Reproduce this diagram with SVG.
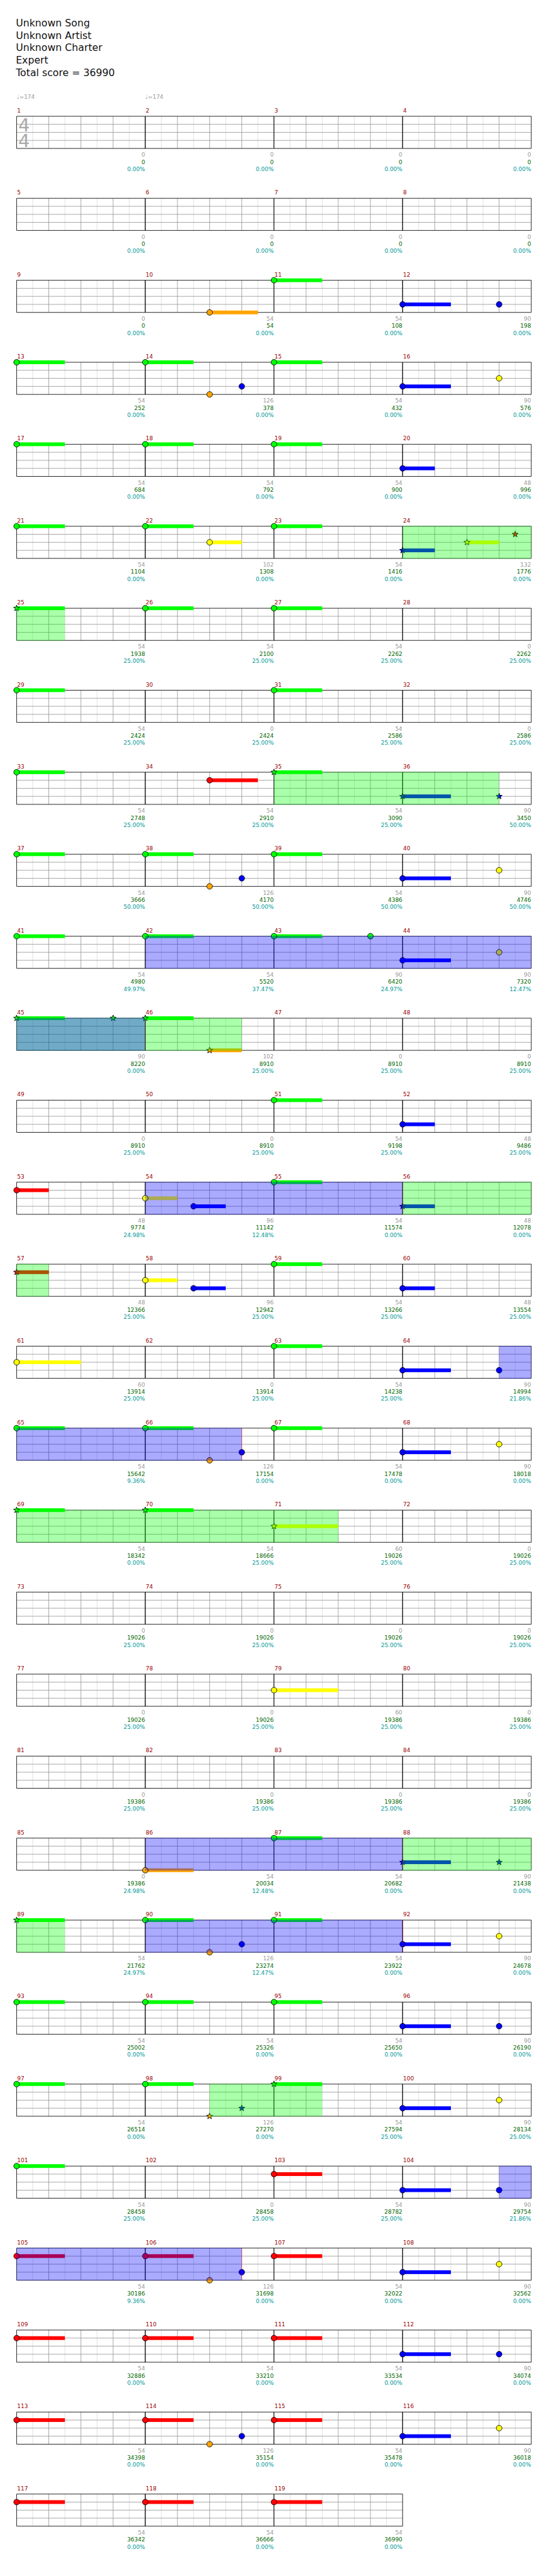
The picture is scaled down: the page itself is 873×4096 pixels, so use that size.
<svg xmlns="http://www.w3.org/2000/svg" width="873" height="4096" viewBox="0 0 873 4096">
<style>
text{font-family:"DejaVu Sans","Liberation Sans",sans-serif}
.ti{font-size:18.5px;fill:#111}
.n{font-size:10.5px;fill:#990000}
.l{font-size:10.5px;fill:#999;text-anchor:end}
.b{fill:#006600}.c{fill:#009999}
.tp{font-size:10.5px;fill:#999}
.ts{font-size:34px;fill:#aaa}
.G{fill:#0f0}.R{fill:#f00}.Y{fill:#ff0}.B{fill:#00f}.O{fill:#ffa500}
circle{stroke:#000;stroke-width:1}
.og{fill:#0f0;fill-opacity:.333}.ob{fill:#00f;fill-opacity:.333}
.el{stroke:#f00;stroke-opacity:.4;stroke-width:1}
</style>
<defs>
<g id="gr" fill="none">
<path d="M30 0v60M90 0v60M150 0v60M210 0v60" stroke="#dcdcdc"/>
<path d="M0 15h240M0 30h240M0 45h240M60 0v60M120 0v60M180 0v60" stroke="#999"/>
<path d="M0 0h240M0 60h240M0 0v60M240 0v60" stroke="#000"/>
</g>
<path id="st" stroke="#000" stroke-width="1" d="M0-6L1.47-2.02L5.71-1.85L2.38 0.77L3.53 4.85L0 2.5L-3.53 4.85L-2.38 0.77L-5.71-1.85L-1.47-2.02Z"/>
</defs>
<rect width="873" height="4096" fill="#fff"/>
<g transform="scale(0.8525,0.8521)">
<g id="header">
<text class="ti" x="29.5" y="49.5">Unknown Song</text>
<text class="ti" x="29.5" y="72.5">Unknown Artist</text>
<text class="ti" x="29.5" y="95.5">Unknown Charter</text>
<text class="ti" x="29.5" y="118.5">Expert</text>
<text class="ti" x="29.5" y="141.5">Total score = 36990</text>
</g>
<g id="measures">
<g id="m1" transform="translate(31,217)"><use href="#gr"/><text class="tp" y="-33">♩=174</text><text class="ts" x="3" y="28">4<tspan x="3" dy="30">4</tspan></text><text class="n" x="1" y="-7">1</text><text class="l" x="239.5" y="75.5">0<tspan class="b" x="239.5" dy="13.3">0</tspan><tspan class="c" x="239.5" dy="13.3">0.00%</tspan></text></g>
<g id="m2" transform="translate(271,217)"><use href="#gr"/><text class="tp" y="-33">♩=174</text><text class="n" x="1" y="-7">2</text><text class="l" x="239.5" y="75.5">0<tspan class="b" x="239.5" dy="13.3">0</tspan><tspan class="c" x="239.5" dy="13.3">0.00%</tspan></text></g>
<g id="m3" transform="translate(511,217)"><use href="#gr"/><text class="n" x="1" y="-7">3</text><text class="l" x="239.5" y="75.5">0<tspan class="b" x="239.5" dy="13.3">0</tspan><tspan class="c" x="239.5" dy="13.3">0.00%</tspan></text></g>
<g id="m4" transform="translate(751,217)"><use href="#gr"/><text class="n" x="1" y="-7">4</text><text class="l" x="239.5" y="75.5">0<tspan class="b" x="239.5" dy="13.3">0</tspan><tspan class="c" x="239.5" dy="13.3">0.00%</tspan></text></g>

<g id="m5" transform="translate(31,370)"><use href="#gr"/><text class="n" x="1" y="-7">5</text><text class="l" x="239.5" y="75.5">0<tspan class="b" x="239.5" dy="13.3">0</tspan><tspan class="c" x="239.5" dy="13.3">0.00%</tspan></text></g>
<g id="m6" transform="translate(271,370)"><use href="#gr"/><text class="n" x="1" y="-7">6</text><text class="l" x="239.5" y="75.5">0<tspan class="b" x="239.5" dy="13.3">0</tspan><tspan class="c" x="239.5" dy="13.3">0.00%</tspan></text></g>
<g id="m7" transform="translate(511,370)"><use href="#gr"/><text class="n" x="1" y="-7">7</text><text class="l" x="239.5" y="75.5">0<tspan class="b" x="239.5" dy="13.3">0</tspan><tspan class="c" x="239.5" dy="13.3">0.00%</tspan></text></g>
<g id="m8" transform="translate(751,370)"><use href="#gr"/><text class="n" x="1" y="-7">8</text><text class="l" x="239.5" y="75.5">0<tspan class="b" x="239.5" dy="13.3">0</tspan><tspan class="c" x="239.5" dy="13.3">0.00%</tspan></text></g>

<g id="m9" transform="translate(31,523)"><use href="#gr"/><text class="n" x="1" y="-7">9</text><text class="l" x="239.5" y="75.5">0<tspan class="b" x="239.5" dy="13.3">0</tspan><tspan class="c" x="239.5" dy="13.3">0.00%</tspan></text></g>
<g id="m10" transform="translate(271,523)"><use href="#gr"/><text class="n" x="1" y="-7">10</text><text class="l" x="239.5" y="75.5">54<tspan class="b" x="239.5" dy="13.3">54</tspan><tspan class="c" x="239.5" dy="13.3">0.00%</tspan></text><rect class="O" x="120" y="56.5" width="90" height="7"/><circle class="O" cx="120" cy="60" r="5.3"/></g>
<g id="m11" transform="translate(511,523)"><use href="#gr"/><text class="n" x="1" y="-7">11</text><text class="l" x="239.5" y="75.5">54<tspan class="b" x="239.5" dy="13.3">108</tspan><tspan class="c" x="239.5" dy="13.3">0.00%</tspan></text><rect class="G" y="-3.5" width="90" height="7"/><circle class="G" r="5.3"/></g>
<g id="m12" transform="translate(751,523)"><use href="#gr"/><text class="n" x="1" y="-7">12</text><text class="l" x="239.5" y="75.5">90<tspan class="b" x="239.5" dy="13.3">198</tspan><tspan class="c" x="239.5" dy="13.3">0.00%</tspan></text><rect class="B" y="41.5" width="90" height="7"/><circle class="B" cy="45" r="5.3"/><circle class="B" cx="180" cy="45" r="5.3"/></g>

<g id="m13" transform="translate(31,676)"><use href="#gr"/><text class="n" x="1" y="-7">13</text><text class="l" x="239.5" y="75.5">54<tspan class="b" x="239.5" dy="13.3">252</tspan><tspan class="c" x="239.5" dy="13.3">0.00%</tspan></text><rect class="G" y="-3.5" width="90" height="7"/><circle class="G" r="5.3"/></g>
<g id="m14" transform="translate(271,676)"><use href="#gr"/><text class="n" x="1" y="-7">14</text><text class="l" x="239.5" y="75.5">126<tspan class="b" x="239.5" dy="13.3">378</tspan><tspan class="c" x="239.5" dy="13.3">0.00%</tspan></text><rect class="G" y="-3.5" width="90" height="7"/><circle class="G" r="5.3"/><circle class="O" cx="120" cy="60" r="5.3"/><circle class="B" cx="180" cy="45" r="5.3"/></g>
<g id="m15" transform="translate(511,676)"><use href="#gr"/><text class="n" x="1" y="-7">15</text><text class="l" x="239.5" y="75.5">54<tspan class="b" x="239.5" dy="13.3">432</tspan><tspan class="c" x="239.5" dy="13.3">0.00%</tspan></text><rect class="G" y="-3.5" width="90" height="7"/><circle class="G" r="5.3"/></g>
<g id="m16" transform="translate(751,676)"><use href="#gr"/><text class="n" x="1" y="-7">16</text><text class="l" x="239.5" y="75.5">90<tspan class="b" x="239.5" dy="13.3">576</tspan><tspan class="c" x="239.5" dy="13.3">0.00%</tspan></text><rect class="B" y="41.5" width="90" height="7"/><circle class="B" cy="45" r="5.3"/><circle class="Y" cx="180" cy="30" r="5.3"/></g>

<g id="m17" transform="translate(31,829)"><use href="#gr"/><text class="n" x="1" y="-7">17</text><text class="l" x="239.5" y="75.5">54<tspan class="b" x="239.5" dy="13.3">684</tspan><tspan class="c" x="239.5" dy="13.3">0.00%</tspan></text><rect class="G" y="-3.5" width="90" height="7"/><circle class="G" r="5.3"/></g>
<g id="m18" transform="translate(271,829)"><use href="#gr"/><text class="n" x="1" y="-7">18</text><text class="l" x="239.5" y="75.5">54<tspan class="b" x="239.5" dy="13.3">792</tspan><tspan class="c" x="239.5" dy="13.3">0.00%</tspan></text><rect class="G" y="-3.5" width="90" height="7"/><circle class="G" r="5.3"/></g>
<g id="m19" transform="translate(511,829)"><use href="#gr"/><text class="n" x="1" y="-7">19</text><text class="l" x="239.5" y="75.5">54<tspan class="b" x="239.5" dy="13.3">900</tspan><tspan class="c" x="239.5" dy="13.3">0.00%</tspan></text><rect class="G" y="-3.5" width="90" height="7"/><circle class="G" r="5.3"/></g>
<g id="m20" transform="translate(751,829)"><use href="#gr"/><text class="n" x="1" y="-7">20</text><text class="l" x="239.5" y="75.5">48<tspan class="b" x="239.5" dy="13.3">996</tspan><tspan class="c" x="239.5" dy="13.3">0.00%</tspan></text><rect class="B" y="41.5" width="60" height="7"/><circle class="B" cy="45" r="5.3"/></g>

<g id="m21" transform="translate(31,982)"><use href="#gr"/><text class="n" x="1" y="-7">21</text><text class="l" x="239.5" y="75.5">54<tspan class="b" x="239.5" dy="13.3">1104</tspan><tspan class="c" x="239.5" dy="13.3">0.00%</tspan></text><rect class="G" y="-3.5" width="90" height="7"/><circle class="G" r="5.3"/></g>
<g id="m22" transform="translate(271,982)"><use href="#gr"/><text class="n" x="1" y="-7">22</text><text class="l" x="239.5" y="75.5">102<tspan class="b" x="239.5" dy="13.3">1308</tspan><tspan class="c" x="239.5" dy="13.3">0.00%</tspan></text><rect class="G" y="-3.5" width="90" height="7"/><circle class="G" r="5.3"/><rect class="Y" x="120" y="26.5" width="60" height="7"/><circle class="Y" cx="120" cy="30" r="5.3"/></g>
<g id="m23" transform="translate(511,982)"><use href="#gr"/><text class="n" x="1" y="-7">23</text><text class="l" x="239.5" y="75.5">54<tspan class="b" x="239.5" dy="13.3">1416</tspan><tspan class="c" x="239.5" dy="13.3">0.00%</tspan></text><rect class="G" y="-3.5" width="90" height="7"/><circle class="G" r="5.3"/></g>
<g id="m24" transform="translate(751,982)"><use href="#gr"/><text class="n" x="1" y="-7">24</text><text class="l" x="239.5" y="75.5">132<tspan class="b" x="239.5" dy="13.3">1776</tspan><tspan class="c" x="239.5" dy="13.3">0.00%</tspan></text><rect class="B" y="41.5" width="60" height="7"/><use href="#st" class="B" y="45"/><rect class="Y" x="120" y="26.5" width="60" height="7"/><use href="#st" class="Y" x="120" y="30"/><use href="#st" class="R" x="210" y="15"/></g>

<g id="m25" transform="translate(31,1135)"><use href="#gr"/><text class="n" x="1" y="-7">25</text><text class="l" x="239.5" y="75.5">54<tspan class="b" x="239.5" dy="13.3">1938</tspan><tspan class="c" x="239.5" dy="13.3">25.00%</tspan></text><rect class="G" y="-3.5" width="90" height="7"/><use href="#st" class="G"/></g>
<g id="m26" transform="translate(271,1135)"><use href="#gr"/><text class="n" x="1" y="-7">26</text><text class="l" x="239.5" y="75.5">54<tspan class="b" x="239.5" dy="13.3">2100</tspan><tspan class="c" x="239.5" dy="13.3">25.00%</tspan></text><rect class="G" y="-3.5" width="90" height="7"/><circle class="G" r="5.3"/></g>
<g id="m27" transform="translate(511,1135)"><use href="#gr"/><text class="n" x="1" y="-7">27</text><text class="l" x="239.5" y="75.5">54<tspan class="b" x="239.5" dy="13.3">2262</tspan><tspan class="c" x="239.5" dy="13.3">25.00%</tspan></text><rect class="G" y="-3.5" width="90" height="7"/><circle class="G" r="5.3"/></g>
<g id="m28" transform="translate(751,1135)"><use href="#gr"/><text class="n" x="1" y="-7">28</text><text class="l" x="239.5" y="75.5">0<tspan class="b" x="239.5" dy="13.3">2262</tspan><tspan class="c" x="239.5" dy="13.3">25.00%</tspan></text></g>

<g id="m29" transform="translate(31,1288)"><use href="#gr"/><text class="n" x="1" y="-7">29</text><text class="l" x="239.5" y="75.5">54<tspan class="b" x="239.5" dy="13.3">2424</tspan><tspan class="c" x="239.5" dy="13.3">25.00%</tspan></text><rect class="G" y="-3.5" width="90" height="7"/><circle class="G" r="5.3"/></g>
<g id="m30" transform="translate(271,1288)"><use href="#gr"/><text class="n" x="1" y="-7">30</text><text class="l" x="239.5" y="75.5">0<tspan class="b" x="239.5" dy="13.3">2424</tspan><tspan class="c" x="239.5" dy="13.3">25.00%</tspan></text></g>
<g id="m31" transform="translate(511,1288)"><use href="#gr"/><text class="n" x="1" y="-7">31</text><text class="l" x="239.5" y="75.5">54<tspan class="b" x="239.5" dy="13.3">2586</tspan><tspan class="c" x="239.5" dy="13.3">25.00%</tspan></text><rect class="G" y="-3.5" width="90" height="7"/><circle class="G" r="5.3"/></g>
<g id="m32" transform="translate(751,1288)"><use href="#gr"/><text class="n" x="1" y="-7">32</text><text class="l" x="239.5" y="75.5">0<tspan class="b" x="239.5" dy="13.3">2586</tspan><tspan class="c" x="239.5" dy="13.3">25.00%</tspan></text></g>

<g id="m33" transform="translate(31,1441)"><use href="#gr"/><text class="n" x="1" y="-7">33</text><text class="l" x="239.5" y="75.5">54<tspan class="b" x="239.5" dy="13.3">2748</tspan><tspan class="c" x="239.5" dy="13.3">25.00%</tspan></text><rect class="G" y="-3.5" width="90" height="7"/><circle class="G" r="5.3"/></g>
<g id="m34" transform="translate(271,1441)"><use href="#gr"/><text class="n" x="1" y="-7">34</text><text class="l" x="239.5" y="75.5">54<tspan class="b" x="239.5" dy="13.3">2910</tspan><tspan class="c" x="239.5" dy="13.3">25.00%</tspan></text><rect class="R" x="120" y="11.5" width="90" height="7"/><circle class="R" cx="120" cy="15" r="5.3"/></g>
<g id="m35" transform="translate(511,1441)"><use href="#gr"/><text class="n" x="1" y="-7">35</text><text class="l" x="239.5" y="75.5">54<tspan class="b" x="239.5" dy="13.3">3090</tspan><tspan class="c" x="239.5" dy="13.3">25.00%</tspan></text><rect class="G" y="-3.5" width="90" height="7"/><use href="#st" class="G"/></g>
<g id="m36" transform="translate(751,1441)"><use href="#gr"/><text class="n" x="1" y="-7">36</text><text class="l" x="239.5" y="75.5">90<tspan class="b" x="239.5" dy="13.3">3450</tspan><tspan class="c" x="239.5" dy="13.3">50.00%</tspan></text><rect class="B" y="41.5" width="90" height="7"/><use href="#st" class="B" y="45"/><use href="#st" class="B" x="180" y="45"/></g>

<g id="m37" transform="translate(31,1594)"><use href="#gr"/><text class="n" x="1" y="-7">37</text><text class="l" x="239.5" y="75.5">54<tspan class="b" x="239.5" dy="13.3">3666</tspan><tspan class="c" x="239.5" dy="13.3">50.00%</tspan></text><rect class="G" y="-3.5" width="90" height="7"/><circle class="G" r="5.3"/></g>
<g id="m38" transform="translate(271,1594)"><use href="#gr"/><text class="n" x="1" y="-7">38</text><text class="l" x="239.5" y="75.5">126<tspan class="b" x="239.5" dy="13.3">4170</tspan><tspan class="c" x="239.5" dy="13.3">50.00%</tspan></text><rect class="G" y="-3.5" width="90" height="7"/><circle class="G" r="5.3"/><circle class="O" cx="120" cy="60" r="5.3"/><circle class="B" cx="180" cy="45" r="5.3"/></g>
<g id="m39" transform="translate(511,1594)"><use href="#gr"/><text class="n" x="1" y="-7">39</text><text class="l" x="239.5" y="75.5">54<tspan class="b" x="239.5" dy="13.3">4386</tspan><tspan class="c" x="239.5" dy="13.3">50.00%</tspan></text><rect class="G" y="-3.5" width="90" height="7"/><circle class="G" r="5.3"/></g>
<g id="m40" transform="translate(751,1594)"><use href="#gr"/><text class="n" x="1" y="-7">40</text><text class="l" x="239.5" y="75.5">90<tspan class="b" x="239.5" dy="13.3">4746</tspan><tspan class="c" x="239.5" dy="13.3">50.00%</tspan></text><rect class="B" y="41.5" width="90" height="7"/><circle class="B" cy="45" r="5.3"/><circle class="Y" cx="180" cy="30" r="5.3"/></g>

<g id="m41" transform="translate(31,1747)"><use href="#gr"/><text class="n" x="1" y="-7">41</text><text class="l" x="239.5" y="75.5">54<tspan class="b" x="239.5" dy="13.3">4980</tspan><tspan class="c" x="239.5" dy="13.3">49.97%</tspan></text><rect class="G" y="-3.5" width="90" height="7"/><circle class="G" r="5.3"/></g>
<g id="m42" transform="translate(271,1747)"><use href="#gr"/><text class="n" x="1" y="-7">42</text><text class="l" x="239.5" y="75.5">54<tspan class="b" x="239.5" dy="13.3">5520</tspan><tspan class="c" x="239.5" dy="13.3">37.47%</tspan></text><rect class="G" y="-3.5" width="90" height="7"/><circle class="G" r="5.3"/></g>
<g id="m43" transform="translate(511,1747)"><use href="#gr"/><text class="n" x="1" y="-7">43</text><text class="l" x="239.5" y="75.5">90<tspan class="b" x="239.5" dy="13.3">6420</tspan><tspan class="c" x="239.5" dy="13.3">24.97%</tspan></text><rect class="G" y="-3.5" width="90" height="7"/><circle class="G" r="5.3"/><circle class="G" cx="180" r="5.3"/></g>
<g id="m44" transform="translate(751,1747)"><use href="#gr"/><text class="n" x="1" y="-7">44</text><text class="l" x="239.5" y="75.5">90<tspan class="b" x="239.5" dy="13.3">7320</tspan><tspan class="c" x="239.5" dy="13.3">12.47%</tspan></text><rect class="B" y="41.5" width="90" height="7"/><circle class="B" cy="45" r="5.3"/><circle class="Y" cx="180" cy="30" r="5.3"/></g>

<g id="m45" transform="translate(31,1900)"><use href="#gr"/><text class="n" x="1" y="-7">45</text><text class="l" x="239.5" y="75.5">90<tspan class="b" x="239.5" dy="13.3">8220</tspan><tspan class="c" x="239.5" dy="13.3">0.00%</tspan></text><rect class="G" y="-3.5" width="90" height="7"/><use href="#st" class="G"/><use href="#st" class="G" x="180"/></g>
<g id="m46" transform="translate(271,1900)"><use href="#gr"/><text class="n" x="1" y="-7">46</text><text class="l" x="239.5" y="75.5">102<tspan class="b" x="239.5" dy="13.3">8910</tspan><tspan class="c" x="239.5" dy="13.3">25.00%</tspan></text><rect class="G" y="-3.5" width="90" height="7"/><use href="#st" class="G"/><rect class="O" x="120" y="56.5" width="60" height="7"/><use href="#st" class="O" x="120" y="60"/></g>
<g id="m47" transform="translate(511,1900)"><use href="#gr"/><text class="n" x="1" y="-7">47</text><text class="l" x="239.5" y="75.5">0<tspan class="b" x="239.5" dy="13.3">8910</tspan><tspan class="c" x="239.5" dy="13.3">25.00%</tspan></text></g>
<g id="m48" transform="translate(751,1900)"><use href="#gr"/><text class="n" x="1" y="-7">48</text><text class="l" x="239.5" y="75.5">0<tspan class="b" x="239.5" dy="13.3">8910</tspan><tspan class="c" x="239.5" dy="13.3">25.00%</tspan></text></g>

<g id="m49" transform="translate(31,2053)"><use href="#gr"/><text class="n" x="1" y="-7">49</text><text class="l" x="239.5" y="75.5">0<tspan class="b" x="239.5" dy="13.3">8910</tspan><tspan class="c" x="239.5" dy="13.3">25.00%</tspan></text></g>
<g id="m50" transform="translate(271,2053)"><use href="#gr"/><text class="n" x="1" y="-7">50</text><text class="l" x="239.5" y="75.5">0<tspan class="b" x="239.5" dy="13.3">8910</tspan><tspan class="c" x="239.5" dy="13.3">25.00%</tspan></text></g>
<g id="m51" transform="translate(511,2053)"><use href="#gr"/><text class="n" x="1" y="-7">51</text><text class="l" x="239.5" y="75.5">54<tspan class="b" x="239.5" dy="13.3">9198</tspan><tspan class="c" x="239.5" dy="13.3">25.00%</tspan></text><rect class="G" y="-3.5" width="90" height="7"/><circle class="G" r="5.3"/></g>
<g id="m52" transform="translate(751,2053)"><use href="#gr"/><text class="n" x="1" y="-7">52</text><text class="l" x="239.5" y="75.5">48<tspan class="b" x="239.5" dy="13.3">9486</tspan><tspan class="c" x="239.5" dy="13.3">25.00%</tspan></text><rect class="B" y="41.5" width="60" height="7"/><circle class="B" cy="45" r="5.3"/></g>

<g id="m53" transform="translate(31,2206)"><use href="#gr"/><text class="n" x="1" y="-7">53</text><text class="l" x="239.5" y="75.5">48<tspan class="b" x="239.5" dy="13.3">9774</tspan><tspan class="c" x="239.5" dy="13.3">24.98%</tspan></text><rect class="R" y="11.5" width="60" height="7"/><circle class="R" cy="15" r="5.3"/></g>
<g id="m54" transform="translate(271,2206)"><use href="#gr"/><text class="n" x="1" y="-7">54</text><text class="l" x="239.5" y="75.5">96<tspan class="b" x="239.5" dy="13.3">11142</tspan><tspan class="c" x="239.5" dy="13.3">12.48%</tspan></text><rect class="Y" y="26.5" width="60" height="7"/><circle class="Y" cy="30" r="5.3"/><rect class="B" x="90" y="41.5" width="60" height="7"/><circle class="B" cx="90" cy="45" r="5.3"/></g>
<g id="m55" transform="translate(511,2206)"><use href="#gr"/><text class="n" x="1" y="-7">55</text><text class="l" x="239.5" y="75.5">54<tspan class="b" x="239.5" dy="13.3">11574</tspan><tspan class="c" x="239.5" dy="13.3">0.00%</tspan></text><rect class="G" y="-3.5" width="90" height="7"/><circle class="G" r="5.3"/></g>
<g id="m56" transform="translate(751,2206)"><use href="#gr"/><text class="n" x="1" y="-7">56</text><text class="l" x="239.5" y="75.5">48<tspan class="b" x="239.5" dy="13.3">12078</tspan><tspan class="c" x="239.5" dy="13.3">0.00%</tspan></text><rect class="B" y="41.5" width="60" height="7"/><use href="#st" class="B" y="45"/></g>

<g id="m57" transform="translate(31,2359)"><use href="#gr"/><text class="n" x="1" y="-7">57</text><text class="l" x="239.5" y="75.5">48<tspan class="b" x="239.5" dy="13.3">12366</tspan><tspan class="c" x="239.5" dy="13.3">25.00%</tspan></text><rect class="R" y="11.5" width="60" height="7"/><use href="#st" class="R" y="15"/></g>
<g id="m58" transform="translate(271,2359)"><use href="#gr"/><text class="n" x="1" y="-7">58</text><text class="l" x="239.5" y="75.5">96<tspan class="b" x="239.5" dy="13.3">12942</tspan><tspan class="c" x="239.5" dy="13.3">25.00%</tspan></text><rect class="Y" y="26.5" width="60" height="7"/><circle class="Y" cy="30" r="5.3"/><rect class="B" x="90" y="41.5" width="60" height="7"/><circle class="B" cx="90" cy="45" r="5.3"/></g>
<g id="m59" transform="translate(511,2359)"><use href="#gr"/><text class="n" x="1" y="-7">59</text><text class="l" x="239.5" y="75.5">54<tspan class="b" x="239.5" dy="13.3">13266</tspan><tspan class="c" x="239.5" dy="13.3">25.00%</tspan></text><rect class="G" y="-3.5" width="90" height="7"/><circle class="G" r="5.3"/></g>
<g id="m60" transform="translate(751,2359)"><use href="#gr"/><text class="n" x="1" y="-7">60</text><text class="l" x="239.5" y="75.5">48<tspan class="b" x="239.5" dy="13.3">13554</tspan><tspan class="c" x="239.5" dy="13.3">25.00%</tspan></text><rect class="B" y="41.5" width="60" height="7"/><circle class="B" cy="45" r="5.3"/></g>

<g id="m61" transform="translate(31,2512)"><use href="#gr"/><text class="n" x="1" y="-7">61</text><text class="l" x="239.5" y="75.5">60<tspan class="b" x="239.5" dy="13.3">13914</tspan><tspan class="c" x="239.5" dy="13.3">25.00%</tspan></text><rect class="Y" y="26.5" width="120" height="7"/><circle class="Y" cy="30" r="5.3"/></g>
<g id="m62" transform="translate(271,2512)"><use href="#gr"/><text class="n" x="1" y="-7">62</text><text class="l" x="239.5" y="75.5">0<tspan class="b" x="239.5" dy="13.3">13914</tspan><tspan class="c" x="239.5" dy="13.3">25.00%</tspan></text></g>
<g id="m63" transform="translate(511,2512)"><use href="#gr"/><text class="n" x="1" y="-7">63</text><text class="l" x="239.5" y="75.5">54<tspan class="b" x="239.5" dy="13.3">14238</tspan><tspan class="c" x="239.5" dy="13.3">25.00%</tspan></text><rect class="G" y="-3.5" width="90" height="7"/><circle class="G" r="5.3"/></g>
<g id="m64" transform="translate(751,2512)"><use href="#gr"/><text class="n" x="1" y="-7">64</text><text class="l" x="239.5" y="75.5">90<tspan class="b" x="239.5" dy="13.3">14994</tspan><tspan class="c" x="239.5" dy="13.3">21.86%</tspan></text><rect class="B" y="41.5" width="90" height="7"/><circle class="B" cy="45" r="5.3"/><circle class="B" cx="180" cy="45" r="5.3"/></g>

<g id="m65" transform="translate(31,2665)"><use href="#gr"/><text class="n" x="1" y="-7">65</text><text class="l" x="239.5" y="75.5">54<tspan class="b" x="239.5" dy="13.3">15642</tspan><tspan class="c" x="239.5" dy="13.3">9.36%</tspan></text><rect class="G" y="-3.5" width="90" height="7"/><circle class="G" r="5.3"/></g>
<g id="m66" transform="translate(271,2665)"><use href="#gr"/><text class="n" x="1" y="-7">66</text><text class="l" x="239.5" y="75.5">126<tspan class="b" x="239.5" dy="13.3">17154</tspan><tspan class="c" x="239.5" dy="13.3">0.00%</tspan></text><rect class="G" y="-3.5" width="90" height="7"/><circle class="G" r="5.3"/><circle class="O" cx="120" cy="60" r="5.3"/><circle class="B" cx="180" cy="45" r="5.3"/></g>
<g id="m67" transform="translate(511,2665)"><use href="#gr"/><text class="n" x="1" y="-7">67</text><text class="l" x="239.5" y="75.5">54<tspan class="b" x="239.5" dy="13.3">17478</tspan><tspan class="c" x="239.5" dy="13.3">0.00%</tspan></text><rect class="G" y="-3.5" width="90" height="7"/><circle class="G" r="5.3"/></g>
<g id="m68" transform="translate(751,2665)"><use href="#gr"/><text class="n" x="1" y="-7">68</text><text class="l" x="239.5" y="75.5">90<tspan class="b" x="239.5" dy="13.3">18018</tspan><tspan class="c" x="239.5" dy="13.3">0.00%</tspan></text><rect class="B" y="41.5" width="90" height="7"/><circle class="B" cy="45" r="5.3"/><circle class="Y" cx="180" cy="30" r="5.3"/></g>

<g id="m69" transform="translate(31,2818)"><use href="#gr"/><text class="n" x="1" y="-7">69</text><text class="l" x="239.5" y="75.5">54<tspan class="b" x="239.5" dy="13.3">18342</tspan><tspan class="c" x="239.5" dy="13.3">0.00%</tspan></text><rect class="G" y="-3.5" width="90" height="7"/><use href="#st" class="G"/></g>
<g id="m70" transform="translate(271,2818)"><use href="#gr"/><text class="n" x="1" y="-7">70</text><text class="l" x="239.5" y="75.5">54<tspan class="b" x="239.5" dy="13.3">18666</tspan><tspan class="c" x="239.5" dy="13.3">25.00%</tspan></text><rect class="G" y="-3.5" width="90" height="7"/><use href="#st" class="G"/></g>
<g id="m71" transform="translate(511,2818)"><use href="#gr"/><text class="n" x="1" y="-7">71</text><text class="l" x="239.5" y="75.5">60<tspan class="b" x="239.5" dy="13.3">19026</tspan><tspan class="c" x="239.5" dy="13.3">25.00%</tspan></text><rect class="Y" y="26.5" width="120" height="7"/><use href="#st" class="Y" y="30"/></g>
<g id="m72" transform="translate(751,2818)"><use href="#gr"/><text class="n" x="1" y="-7">72</text><text class="l" x="239.5" y="75.5">0<tspan class="b" x="239.5" dy="13.3">19026</tspan><tspan class="c" x="239.5" dy="13.3">25.00%</tspan></text></g>

<g id="m73" transform="translate(31,2971)"><use href="#gr"/><text class="n" x="1" y="-7">73</text><text class="l" x="239.5" y="75.5">0<tspan class="b" x="239.5" dy="13.3">19026</tspan><tspan class="c" x="239.5" dy="13.3">25.00%</tspan></text></g>
<g id="m74" transform="translate(271,2971)"><use href="#gr"/><text class="n" x="1" y="-7">74</text><text class="l" x="239.5" y="75.5">0<tspan class="b" x="239.5" dy="13.3">19026</tspan><tspan class="c" x="239.5" dy="13.3">25.00%</tspan></text></g>
<g id="m75" transform="translate(511,2971)"><use href="#gr"/><text class="n" x="1" y="-7">75</text><text class="l" x="239.5" y="75.5">0<tspan class="b" x="239.5" dy="13.3">19026</tspan><tspan class="c" x="239.5" dy="13.3">25.00%</tspan></text></g>
<g id="m76" transform="translate(751,2971)"><use href="#gr"/><text class="n" x="1" y="-7">76</text><text class="l" x="239.5" y="75.5">0<tspan class="b" x="239.5" dy="13.3">19026</tspan><tspan class="c" x="239.5" dy="13.3">25.00%</tspan></text></g>

<g id="m77" transform="translate(31,3124)"><use href="#gr"/><text class="n" x="1" y="-7">77</text><text class="l" x="239.5" y="75.5">0<tspan class="b" x="239.5" dy="13.3">19026</tspan><tspan class="c" x="239.5" dy="13.3">25.00%</tspan></text></g>
<g id="m78" transform="translate(271,3124)"><use href="#gr"/><text class="n" x="1" y="-7">78</text><text class="l" x="239.5" y="75.5">0<tspan class="b" x="239.5" dy="13.3">19026</tspan><tspan class="c" x="239.5" dy="13.3">25.00%</tspan></text></g>
<g id="m79" transform="translate(511,3124)"><use href="#gr"/><text class="n" x="1" y="-7">79</text><text class="l" x="239.5" y="75.5">60<tspan class="b" x="239.5" dy="13.3">19386</tspan><tspan class="c" x="239.5" dy="13.3">25.00%</tspan></text><rect class="Y" y="26.5" width="120" height="7"/><circle class="Y" cy="30" r="5.3"/></g>
<g id="m80" transform="translate(751,3124)"><use href="#gr"/><text class="n" x="1" y="-7">80</text><text class="l" x="239.5" y="75.5">0<tspan class="b" x="239.5" dy="13.3">19386</tspan><tspan class="c" x="239.5" dy="13.3">25.00%</tspan></text></g>

<g id="m81" transform="translate(31,3277)"><use href="#gr"/><text class="n" x="1" y="-7">81</text><text class="l" x="239.5" y="75.5">0<tspan class="b" x="239.5" dy="13.3">19386</tspan><tspan class="c" x="239.5" dy="13.3">25.00%</tspan></text></g>
<g id="m82" transform="translate(271,3277)"><use href="#gr"/><text class="n" x="1" y="-7">82</text><text class="l" x="239.5" y="75.5">0<tspan class="b" x="239.5" dy="13.3">19386</tspan><tspan class="c" x="239.5" dy="13.3">25.00%</tspan></text></g>
<g id="m83" transform="translate(511,3277)"><use href="#gr"/><text class="n" x="1" y="-7">83</text><text class="l" x="239.5" y="75.5">0<tspan class="b" x="239.5" dy="13.3">19386</tspan><tspan class="c" x="239.5" dy="13.3">25.00%</tspan></text></g>
<g id="m84" transform="translate(751,3277)"><use href="#gr"/><text class="n" x="1" y="-7">84</text><text class="l" x="239.5" y="75.5">0<tspan class="b" x="239.5" dy="13.3">19386</tspan><tspan class="c" x="239.5" dy="13.3">25.00%</tspan></text></g>

<g id="m85" transform="translate(31,3430)"><use href="#gr"/><text class="n" x="1" y="-7">85</text><text class="l" x="239.5" y="75.5">0<tspan class="b" x="239.5" dy="13.3">19386</tspan><tspan class="c" x="239.5" dy="13.3">24.98%</tspan></text></g>
<g id="m86" transform="translate(271,3430)"><use href="#gr"/><text class="n" x="1" y="-7">86</text><text class="l" x="239.5" y="75.5">54<tspan class="b" x="239.5" dy="13.3">20034</tspan><tspan class="c" x="239.5" dy="13.3">12.48%</tspan></text><rect class="O" y="56.5" width="90" height="7"/><circle class="O" cy="60" r="5.3"/></g>
<g id="m87" transform="translate(511,3430)"><use href="#gr"/><text class="n" x="1" y="-7">87</text><text class="l" x="239.5" y="75.5">54<tspan class="b" x="239.5" dy="13.3">20682</tspan><tspan class="c" x="239.5" dy="13.3">0.00%</tspan></text><rect class="G" y="-3.5" width="90" height="7"/><circle class="G" r="5.3"/></g>
<g id="m88" transform="translate(751,3430)"><use href="#gr"/><text class="n" x="1" y="-7">88</text><text class="l" x="239.5" y="75.5">90<tspan class="b" x="239.5" dy="13.3">21438</tspan><tspan class="c" x="239.5" dy="13.3">0.00%</tspan></text><rect class="B" y="41.5" width="90" height="7"/><use href="#st" class="B" y="45"/><use href="#st" class="B" x="180" y="45"/></g>

<g id="m89" transform="translate(31,3583)"><use href="#gr"/><text class="n" x="1" y="-7">89</text><text class="l" x="239.5" y="75.5">54<tspan class="b" x="239.5" dy="13.3">21762</tspan><tspan class="c" x="239.5" dy="13.3">24.97%</tspan></text><rect class="G" y="-3.5" width="90" height="7"/><use href="#st" class="G"/></g>
<g id="m90" transform="translate(271,3583)"><use href="#gr"/><text class="n" x="1" y="-7">90</text><text class="l" x="239.5" y="75.5">126<tspan class="b" x="239.5" dy="13.3">23274</tspan><tspan class="c" x="239.5" dy="13.3">12.47%</tspan></text><rect class="G" y="-3.5" width="90" height="7"/><circle class="G" r="5.3"/><circle class="O" cx="120" cy="60" r="5.3"/><circle class="B" cx="180" cy="45" r="5.3"/></g>
<g id="m91" transform="translate(511,3583)"><use href="#gr"/><text class="n" x="1" y="-7">91</text><text class="l" x="239.5" y="75.5">54<tspan class="b" x="239.5" dy="13.3">23922</tspan><tspan class="c" x="239.5" dy="13.3">0.00%</tspan></text><rect class="G" y="-3.5" width="90" height="7"/><circle class="G" r="5.3"/></g>
<g id="m92" transform="translate(751,3583)"><use href="#gr"/><text class="n" x="1" y="-7">92</text><text class="l" x="239.5" y="75.5">90<tspan class="b" x="239.5" dy="13.3">24678</tspan><tspan class="c" x="239.5" dy="13.3">0.00%</tspan></text><rect class="B" y="41.5" width="90" height="7"/><circle class="B" cy="45" r="5.3"/><circle class="Y" cx="180" cy="30" r="5.3"/></g>

<g id="m93" transform="translate(31,3736)"><use href="#gr"/><text class="n" x="1" y="-7">93</text><text class="l" x="239.5" y="75.5">54<tspan class="b" x="239.5" dy="13.3">25002</tspan><tspan class="c" x="239.5" dy="13.3">0.00%</tspan></text><rect class="G" y="-3.5" width="90" height="7"/><circle class="G" r="5.3"/></g>
<g id="m94" transform="translate(271,3736)"><use href="#gr"/><text class="n" x="1" y="-7">94</text><text class="l" x="239.5" y="75.5">54<tspan class="b" x="239.5" dy="13.3">25326</tspan><tspan class="c" x="239.5" dy="13.3">0.00%</tspan></text><rect class="G" y="-3.5" width="90" height="7"/><circle class="G" r="5.3"/></g>
<g id="m95" transform="translate(511,3736)"><use href="#gr"/><text class="n" x="1" y="-7">95</text><text class="l" x="239.5" y="75.5">54<tspan class="b" x="239.5" dy="13.3">25650</tspan><tspan class="c" x="239.5" dy="13.3">0.00%</tspan></text><rect class="G" y="-3.5" width="90" height="7"/><circle class="G" r="5.3"/></g>
<g id="m96" transform="translate(751,3736)"><use href="#gr"/><text class="n" x="1" y="-7">96</text><text class="l" x="239.5" y="75.5">90<tspan class="b" x="239.5" dy="13.3">26190</tspan><tspan class="c" x="239.5" dy="13.3">0.00%</tspan></text><rect class="B" y="41.5" width="90" height="7"/><circle class="B" cy="45" r="5.3"/><circle class="B" cx="180" cy="45" r="5.3"/></g>

<g id="m97" transform="translate(31,3889)"><use href="#gr"/><text class="n" x="1" y="-7">97</text><text class="l" x="239.5" y="75.5">54<tspan class="b" x="239.5" dy="13.3">26514</tspan><tspan class="c" x="239.5" dy="13.3">0.00%</tspan></text><rect class="G" y="-3.5" width="90" height="7"/><circle class="G" r="5.3"/></g>
<g id="m98" transform="translate(271,3889)"><use href="#gr"/><text class="n" x="1" y="-7">98</text><text class="l" x="239.5" y="75.5">126<tspan class="b" x="239.5" dy="13.3">27270</tspan><tspan class="c" x="239.5" dy="13.3">0.00%</tspan></text><rect class="G" y="-3.5" width="90" height="7"/><circle class="G" r="5.3"/><use href="#st" class="O" x="120" y="60"/><use href="#st" class="B" x="180" y="45"/></g>
<g id="m99" transform="translate(511,3889)"><use href="#gr"/><text class="n" x="1" y="-7">99</text><text class="l" x="239.5" y="75.5">54<tspan class="b" x="239.5" dy="13.3">27594</tspan><tspan class="c" x="239.5" dy="13.3">25.00%</tspan></text><rect class="G" y="-3.5" width="90" height="7"/><use href="#st" class="G"/></g>
<g id="m100" transform="translate(751,3889)"><use href="#gr"/><text class="n" x="1" y="-7">100</text><text class="l" x="239.5" y="75.5">90<tspan class="b" x="239.5" dy="13.3">28134</tspan><tspan class="c" x="239.5" dy="13.3">25.00%</tspan></text><rect class="B" y="41.5" width="90" height="7"/><circle class="B" cy="45" r="5.3"/><circle class="Y" cx="180" cy="30" r="5.3"/></g>

<g id="m101" transform="translate(31,4042)"><use href="#gr"/><text class="n" x="1" y="-7">101</text><text class="l" x="239.5" y="75.5">54<tspan class="b" x="239.5" dy="13.3">28458</tspan><tspan class="c" x="239.5" dy="13.3">25.00%</tspan></text><rect class="G" y="-3.5" width="90" height="7"/><circle class="G" r="5.3"/></g>
<g id="m102" transform="translate(271,4042)"><use href="#gr"/><text class="n" x="1" y="-7">102</text><text class="l" x="239.5" y="75.5">0<tspan class="b" x="239.5" dy="13.3">28458</tspan><tspan class="c" x="239.5" dy="13.3">25.00%</tspan></text></g>
<g id="m103" transform="translate(511,4042)"><use href="#gr"/><text class="n" x="1" y="-7">103</text><text class="l" x="239.5" y="75.5">54<tspan class="b" x="239.5" dy="13.3">28782</tspan><tspan class="c" x="239.5" dy="13.3">25.00%</tspan></text><rect class="R" y="11.5" width="90" height="7"/><circle class="R" cy="15" r="5.3"/></g>
<g id="m104" transform="translate(751,4042)"><use href="#gr"/><text class="n" x="1" y="-7">104</text><text class="l" x="239.5" y="75.5">90<tspan class="b" x="239.5" dy="13.3">29754</tspan><tspan class="c" x="239.5" dy="13.3">21.86%</tspan></text><rect class="B" y="41.5" width="90" height="7"/><circle class="B" cy="45" r="5.3"/><circle class="B" cx="180" cy="45" r="5.3"/></g>

<g id="m105" transform="translate(31,4195)"><use href="#gr"/><text class="n" x="1" y="-7">105</text><text class="l" x="239.5" y="75.5">54<tspan class="b" x="239.5" dy="13.3">30186</tspan><tspan class="c" x="239.5" dy="13.3">9.36%</tspan></text><rect class="R" y="11.5" width="90" height="7"/><circle class="R" cy="15" r="5.3"/></g>
<g id="m106" transform="translate(271,4195)"><use href="#gr"/><text class="n" x="1" y="-7">106</text><text class="l" x="239.5" y="75.5">126<tspan class="b" x="239.5" dy="13.3">31698</tspan><tspan class="c" x="239.5" dy="13.3">0.00%</tspan></text><rect class="R" y="11.5" width="90" height="7"/><circle class="R" cy="15" r="5.3"/><circle class="O" cx="120" cy="60" r="5.3"/><circle class="B" cx="180" cy="45" r="5.3"/></g>
<g id="m107" transform="translate(511,4195)"><use href="#gr"/><text class="n" x="1" y="-7">107</text><text class="l" x="239.5" y="75.5">54<tspan class="b" x="239.5" dy="13.3">32022</tspan><tspan class="c" x="239.5" dy="13.3">0.00%</tspan></text><rect class="R" y="11.5" width="90" height="7"/><circle class="R" cy="15" r="5.3"/></g>
<g id="m108" transform="translate(751,4195)"><use href="#gr"/><text class="n" x="1" y="-7">108</text><text class="l" x="239.5" y="75.5">90<tspan class="b" x="239.5" dy="13.3">32562</tspan><tspan class="c" x="239.5" dy="13.3">0.00%</tspan></text><rect class="B" y="41.5" width="90" height="7"/><circle class="B" cy="45" r="5.3"/><circle class="Y" cx="180" cy="30" r="5.3"/></g>

<g id="m109" transform="translate(31,4348)"><use href="#gr"/><text class="n" x="1" y="-7">109</text><text class="l" x="239.5" y="75.5">54<tspan class="b" x="239.5" dy="13.3">32886</tspan><tspan class="c" x="239.5" dy="13.3">0.00%</tspan></text><rect class="R" y="11.5" width="90" height="7"/><circle class="R" cy="15" r="5.3"/></g>
<g id="m110" transform="translate(271,4348)"><use href="#gr"/><text class="n" x="1" y="-7">110</text><text class="l" x="239.5" y="75.5">54<tspan class="b" x="239.5" dy="13.3">33210</tspan><tspan class="c" x="239.5" dy="13.3">0.00%</tspan></text><rect class="R" y="11.5" width="90" height="7"/><circle class="R" cy="15" r="5.3"/></g>
<g id="m111" transform="translate(511,4348)"><use href="#gr"/><text class="n" x="1" y="-7">111</text><text class="l" x="239.5" y="75.5">54<tspan class="b" x="239.5" dy="13.3">33534</tspan><tspan class="c" x="239.5" dy="13.3">0.00%</tspan></text><rect class="R" y="11.5" width="90" height="7"/><circle class="R" cy="15" r="5.3"/></g>
<g id="m112" transform="translate(751,4348)"><use href="#gr"/><text class="n" x="1" y="-7">112</text><text class="l" x="239.5" y="75.5">90<tspan class="b" x="239.5" dy="13.3">34074</tspan><tspan class="c" x="239.5" dy="13.3">0.00%</tspan></text><rect class="B" y="41.5" width="90" height="7"/><circle class="B" cy="45" r="5.3"/><circle class="B" cx="180" cy="45" r="5.3"/></g>

<g id="m113" transform="translate(31,4501)"><use href="#gr"/><text class="n" x="1" y="-7">113</text><text class="l" x="239.5" y="75.5">54<tspan class="b" x="239.5" dy="13.3">34398</tspan><tspan class="c" x="239.5" dy="13.3">0.00%</tspan></text><rect class="R" y="11.5" width="90" height="7"/><circle class="R" cy="15" r="5.3"/></g>
<g id="m114" transform="translate(271,4501)"><use href="#gr"/><text class="n" x="1" y="-7">114</text><text class="l" x="239.5" y="75.5">126<tspan class="b" x="239.5" dy="13.3">35154</tspan><tspan class="c" x="239.5" dy="13.3">0.00%</tspan></text><rect class="R" y="11.5" width="90" height="7"/><circle class="R" cy="15" r="5.3"/><circle class="O" cx="120" cy="60" r="5.3"/><circle class="B" cx="180" cy="45" r="5.3"/></g>
<g id="m115" transform="translate(511,4501)"><use href="#gr"/><text class="n" x="1" y="-7">115</text><text class="l" x="239.5" y="75.5">54<tspan class="b" x="239.5" dy="13.3">35478</tspan><tspan class="c" x="239.5" dy="13.3">0.00%</tspan></text><rect class="R" y="11.5" width="90" height="7"/><circle class="R" cy="15" r="5.3"/></g>
<g id="m116" transform="translate(751,4501)"><use href="#gr"/><text class="n" x="1" y="-7">116</text><text class="l" x="239.5" y="75.5">90<tspan class="b" x="239.5" dy="13.3">36018</tspan><tspan class="c" x="239.5" dy="13.3">0.00%</tspan></text><rect class="B" y="41.5" width="90" height="7"/><circle class="B" cy="45" r="5.3"/><circle class="Y" cx="180" cy="30" r="5.3"/></g>

<g id="m117" transform="translate(31,4654)"><use href="#gr"/><text class="n" x="1" y="-7">117</text><text class="l" x="239.5" y="75.5">54<tspan class="b" x="239.5" dy="13.3">36342</tspan><tspan class="c" x="239.5" dy="13.3">0.00%</tspan></text><rect class="R" y="11.5" width="90" height="7"/><circle class="R" cy="15" r="5.3"/></g>
<g id="m118" transform="translate(271,4654)"><use href="#gr"/><text class="n" x="1" y="-7">118</text><text class="l" x="239.5" y="75.5">54<tspan class="b" x="239.5" dy="13.3">36666</tspan><tspan class="c" x="239.5" dy="13.3">0.00%</tspan></text><rect class="R" y="11.5" width="90" height="7"/><circle class="R" cy="15" r="5.3"/></g>
<g id="m119" transform="translate(511,4654)"><use href="#gr"/><text class="n" x="1" y="-7">119</text><text class="l" x="239.5" y="75.5">54<tspan class="b" x="239.5" dy="13.3">36990</tspan><tspan class="c" x="239.5" dy="13.3">0.00%</tspan></text><rect class="R" y="11.5" width="90" height="7"/><circle class="R" cy="15" r="5.3"/></g>
</g>
<g id="overlays">
<rect class="og" x="751" y="981.5" width="240" height="61"/>
<rect class="og" x="31" y="1134.5" width="90" height="61"/>
<rect class="og" x="511" y="1440.5" width="420" height="61"/>
<rect class="og" x="31" y="1899.5" width="420" height="61"/>
<rect class="og" x="751" y="2205.5" width="240" height="61"/>
<rect class="og" x="31" y="2358.5" width="60" height="61"/>
<rect class="og" x="31" y="2817.5" width="600" height="61"/>
<rect class="og" x="751" y="3429.5" width="240" height="61"/>
<rect class="og" x="31" y="3582.5" width="90" height="61"/>
<rect class="og" x="391" y="3888.5" width="210" height="61"/>
<rect class="ob" x="271" y="1746.5" width="720" height="61"/>
<rect class="ob" x="31" y="1899.5" width="240" height="61"/>
<rect class="ob" x="271" y="2205.5" width="480" height="61"/>
<rect class="ob" x="931" y="2511.5" width="60" height="61"/>
<rect class="ob" x="31" y="2664.5" width="420" height="61"/>
<rect class="ob" x="271" y="3429.5" width="480" height="61"/>
<rect class="ob" x="271" y="3582.5" width="480" height="61"/>
<rect class="ob" x="931" y="4041.5" width="60" height="61"/>
<rect class="ob" x="31" y="4194.5" width="420" height="61"/>
<path class="el" d="M271 1900v60M751 2206v60M451 2665v60M751 3430v60M751 3583v60M451 4195v60"/>
</g>
</g>
</svg>
